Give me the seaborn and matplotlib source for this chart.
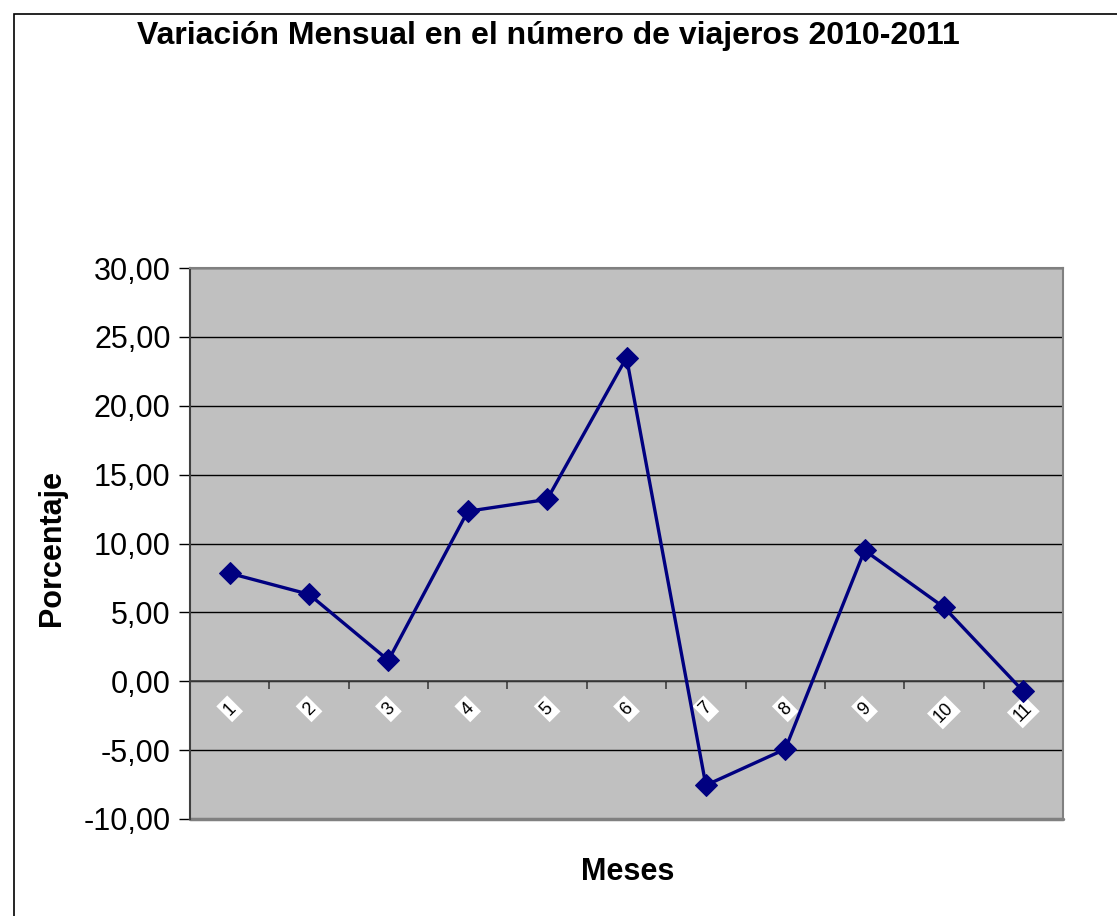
import matplotlib.pyplot as plt
import matplotlib.patches as mpatches
import pandas as pd
import seaborn as sns
from matplotlib.ticker import FixedLocator, FuncFormatter

meses = ['1', '2', '3', '4', '5', '6', '7', '8', '9', '10', '11']
variacion = [7.84, 6.31, 1.52, 12.34, 13.20, 23.50, -7.55, -4.93, 9.50, 5.37, -0.73]
y_ticks = [-10, -5, 0, 5, 10, 15, 20, 25, 30]

data = pd.DataFrame({'pos': range(len(meses)), 'mes': meses, 'variacion': variacion})

sns.set_style('white')
plt.rcParams['font.family'] = ['Liberation Sans', 'DejaVu Sans']
plt.rcParams['text.color'] = 'black'
plt.rcParams['xtick.color'] = 'black'
plt.rcParams['ytick.color'] = 'black'

fig = plt.figure(figsize=(11.17, 9.16), dpi=100)
ax = fig.add_axes([190 / 1117, 1 - 819 / 916, 873 / 1117, 551 / 916])
ax.set_facecolor('#c0c0c0')

# outer chart frame (cut off at right and bottom like the original)
fig.patches.append(mpatches.Rectangle((14 / 1117, -0.05), 1.2, 1 - 14 / 916 + 0.05,
                                      transform=fig.transFigure, fill=False,
                                      edgecolor='black', linewidth=1.2))

for v in y_ticks:
    ax.axhline(v, color='black', linewidth=1.0, zorder=1)

sns.lineplot(data=data, x='pos', y='variacion', ax=ax, color='#000080', linewidth=2.4,
             marker='D', markersize=11, markeredgecolor='#000080', zorder=3)

ax.set_xlim(-0.5, len(meses) - 0.5)
ax.set_ylim(-10, 30)
ax.set_yticks(y_ticks)
ax.yaxis.set_major_formatter(FuncFormatter(lambda v, p: f'{v:.2f}'.replace('.', ',')))
ax.tick_params(axis='y', labelsize=22, length=8, width=1, color='black', direction='out',
               left=True, pad=6, labelcolor='black')

# x axis crossing at zero with boundary ticks
ax.spines['bottom'].set_position(('data', 0))
ax.spines['bottom'].set_color('#404040')
ax.spines['bottom'].set_linewidth(1.2)
ax.xaxis.set_minor_locator(FixedLocator([i + 0.5 for i in range(len(meses) - 1)] + [len(meses) - 0.5]))
ax.tick_params(axis='x', which='minor', length=6, width=1.2, color='#404040', direction='out', bottom=True)
ax.set_xticks(list(range(len(meses))))
ax.set_xticklabels(meses)
ax.tick_params(axis='x', which='major', length=0, pad=13, labelsize=13, labelcolor='black')
for lbl in ax.get_xticklabels():
    lbl.set_rotation(45)
    lbl.set_bbox(dict(facecolor='white', edgecolor='none', pad=2))

ax.spines['left'].set_color('#404040')
ax.spines['left'].set_linewidth(1.5)
for s in ['top', 'right']:
    ax.spines[s].set_color('#808080')
    ax.spines[s].set_linewidth(1.5)
ax.plot([0, 1], [0, 0], transform=ax.transAxes, color='#808080', linewidth=2.5, clip_on=False)

ax.set_xlabel('')
ax.set_ylabel('')
fig.text(628 / 1117, 1 - 872 / 916, 'Meses', ha='center', va='center', fontsize=22, fontweight='bold')
fig.text(52 / 1117, 1 - 548 / 916, 'Porcentaje', ha='center', va='center', rotation=90,
         fontsize=22, fontweight='bold')
fig.text(548 / 1117, 1 - 36 / 916, 'Variación Mensual en el número de viajeros 2010-2011',
         ha='center', va='center', fontsize=23, fontweight='bold')

plt.savefig('out.png', dpi=100)
plt.close('all')
